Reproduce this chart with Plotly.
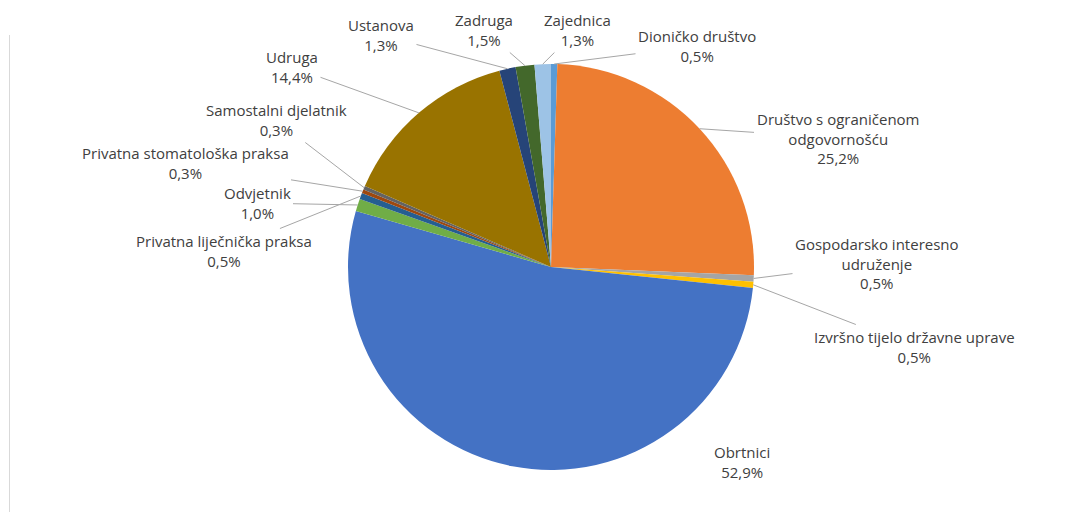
import math
import plotly.graph_objects as go

# podaci
labels = ['Dioničko društvo', 'Društvo s ograničenom odgovornošću',
          'Gospodarsko interesno udruženje', 'Izvršno tijelo državne uprave',
          'Obrtnici', 'Odvjetnik', 'Privatna liječnička praksa',
          'Privatna stomatološka praksa', 'Samostalni djelatnik', 'Udruga',
          'Ustanova', 'Zadruga', 'Zajednica']
values = [0.5, 25.2, 0.5, 0.5, 52.9, 1.0, 0.5, 0.3, 0.3, 14.4, 1.3, 1.5, 1.3]

# prikaz natpisa (prijelomi redaka)
label_text = ['Dioničko društvo', 'Društvo s ograničenom<br>odgovornošću',
              'Gospodarsko interesno<br>udruženje', 'Izvršno tijelo državne uprave',
              'Obrtnici', 'Odvjetnik', 'Privatna liječnička praksa',
              'Privatna stomatološka praksa', 'Samostalni djelatnik', 'Udruga',
              'Ustanova', 'Zadruga', 'Zajednica']

colors = ['#5B9BD5', '#ED7D31', '#A5A5A5', '#FFC000', '#4472C4', '#70AD47',
          '#255E91', '#9E480E', '#636363', '#997300', '#264478', '#43682B',
          '#9DC3E6']

W, H = 1076, 512
OFF = 8  # margina stranice u pregledniku
cx, cy, r = 551 - OFF, 267 - OFF, 203

# položaji natpisa (px na slici) i vodilice
label_pos = [(697, 46), (838, 138), (877, 263), (914, 347), (742, 462),
             (257, 203), (224, 251), (185, 163), (276, 120), (292, 67),
             (381, 35), (484, 30), (577, 30)]
leader = [True, True, True, True, False, True, True, True, True, True,
          True, True, True]

FONT = dict(family='Open Sans', size=15, color='#404040')

fig = go.Figure(go.Pie(
    labels=labels, values=values, sort=False, direction='clockwise',
    rotation=0, textinfo='none', hoverinfo='label+value',
    marker=dict(colors=colors, line=dict(color='white', width=0)),
    domain=dict(x=[(cx - r) / W, (cx + r) / W], y=[1 - (cy + r) / H, 1 - (cy - r) / H]),
    showlegend=False,
))

total = sum(values)
cum = 0
annotations = []
for lab, v, (lx, ly), ld in zip(label_text, values, label_pos, leader):
    lx, ly = lx - OFF, ly - OFF
    theta = 2 * math.pi * (cum + v / 2) / total
    cum += v
    px = cx + r * math.sin(theta)
    py = cy - r * math.cos(theta)
    txt = f"{lab}<br>{v:.1f}%".replace('.', ',')
    if ld:
        annotations.append(dict(
            x=px / W, y=1 - py / H, xref='paper', yref='paper',
            ax=lx - px, ay=ly - py, text=txt, showarrow=True, arrowhead=0,
            arrowwidth=1, arrowcolor='#A6A6A6', standoff=0, borderpad=2,
            font=FONT))
    else:
        annotations.append(dict(
            x=lx / W, y=1 - ly / H, xref='paper', yref='paper', text=txt,
            xanchor='center', yanchor='middle', showarrow=False, font=FONT))

fig.update_layout(
    width=W, height=H, margin=dict(l=0, r=0, t=0, b=0),
    paper_bgcolor='white', plot_bgcolor='white',
    annotations=annotations,
    shapes=[dict(type='line', xref='paper', yref='paper', x0=1.5 / W, x1=1.5 / W,
                 y0=0, y1=1 - 27 / H, line=dict(color='#D9D9D9', width=1))],
)

fig.write_html("out.html")
